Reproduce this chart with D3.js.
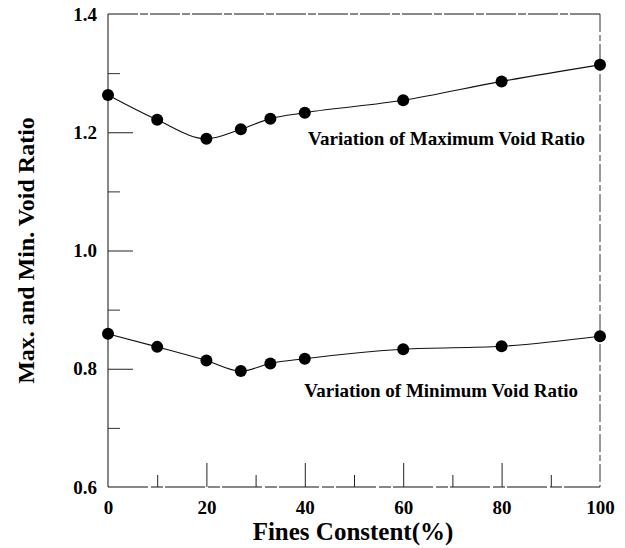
<!DOCTYPE html>
<html>
<head>
<meta charset="utf-8">
<script src="https://cdn.jsdelivr.net/npm/d3@7"></script>
<style>
  html, body { margin: 0; padding: 0; background: #fff; }
  svg { display: block; }
  svg text { font-family: "Liberation Serif", "DejaVu Serif", serif !important; font-weight: bold; fill: #000; }
</style>
</head>
<body>
<svg id="chart" width="625" height="548"></svg>
<script>
// Fines content (%) of each tested mixture
const finesContent = [0, 10, 20, 27, 33, 40, 60, 80, 100];
// Maximum and minimum void ratio at each fines content
const maxVoidRatio = [1.263, 1.221, 1.189, 1.205, 1.223, 1.233, 1.254, 1.286, 1.314];
const minVoidRatio = [0.859, 0.837, 0.814, 0.796, 0.809, 0.817, 0.833, 0.838, 0.855];

// Axis ticks
const xMajorTicks = [0, 20, 40, 60, 80, 100];
const xMinorTicks = [10, 30, 50, 70, 90];
const yMajorTicks = [0.6, 0.8, 1.0, 1.2, 1.4];
const yMinorTicks = [0.7, 0.9, 1.1, 1.3];

const FONT = '"Liberation Serif", "DejaVu Serif", serif';

const svg = d3.select("#chart");
const plotLeft = 108, plotRight = 600, plotTop = 14, plotBottom = 487;

const x = d3.scaleLinear().domain([0, 100]).range([plotLeft, plotRight]);
const y = d3.scaleLinear().domain([0.6, 1.4]).range([plotBottom, plotTop]);

// Frame
const frame = svg.append("g").attr("fill", "none").attr("stroke", "#111").attr("stroke-width", 1);
frame.append("line").attr("x1", plotLeft).attr("x2", plotLeft).attr("y1", plotTop).attr("y2", plotBottom);
frame.append("line").attr("x1", plotLeft).attr("x2", plotRight).attr("y1", plotBottom).attr("y2", plotBottom)
  .attr("stroke-dasharray", "40,3,12,2");
frame.append("line").attr("x1", plotLeft).attr("x2", plotRight).attr("y1", plotTop).attr("y2", plotTop)
  .attr("stroke-dasharray", "30,2,8,2");
frame.append("line").attr("x1", plotRight).attr("x2", plotRight).attr("y1", plotTop).attr("y2", plotBottom)
  .attr("stroke-dasharray", "18,3,6,3").attr("stroke", "#333");

// Y axis: labels and inward ticks
const yAxis = svg.append("g").attr("transform", `translate(${plotLeft},0)`)
  .call(d3.axisLeft(y).tickValues(yMajorTicks).tickFormat(d3.format(".1f"))
    .tickSizeInner(-25).tickSizeOuter(0).tickPadding(11))
  .attr("font-family", FONT).attr("font-size", 19);
yAxis.select(".domain").remove();
yAxis.selectAll(".tick line").attr("stroke", "#222")
  .filter(d => d === 0.6 || d === 1.4).remove();

const yMinor = svg.append("g").attr("transform", `translate(${plotLeft},0)`)
  .call(d3.axisLeft(y).tickValues(yMinorTicks).tickFormat("").tickSizeInner(-12).tickSizeOuter(0));
yMinor.select(".domain").remove();
yMinor.selectAll(".tick line").attr("stroke", "#333");

// X axis: labels and inward ticks
const xAxis = svg.append("g").attr("transform", `translate(0,${plotBottom})`)
  .call(d3.axisBottom(x).tickValues(xMajorTicks).tickFormat(d3.format("d"))
    .tickSizeInner(-24).tickSizeOuter(0).tickPadding(14))
  .attr("font-family", FONT).attr("font-size", 19);
xAxis.select(".domain").remove();
xAxis.selectAll(".tick line").attr("stroke", "#222")
  .filter(d => d === 0 || d === 100).remove();

const xMinor = svg.append("g").attr("transform", `translate(0,${plotBottom})`)
  .call(d3.axisBottom(x).tickValues(xMinorTicks).tickFormat("").tickSizeInner(-12).tickSizeOuter(0));
xMinor.select(".domain").remove();
xMinor.selectAll(".tick line").attr("stroke", "#222");

// Axis titles
svg.append("text")
  .attr("x", 353).attr("y", 540)
  .attr("text-anchor", "middle").attr("font-size", 25)
  .text("Fines Constent(%)");

svg.append("text")
  .attr("transform", `translate(34,${(plotTop + plotBottom) / 2}) rotate(-90)`)
  .attr("text-anchor", "middle").attr("font-size", 24)
  .text("Max. and Min. Void Ratio");

// Series curves and markers
const series = [
  { values: maxVoidRatio, label: "Variation of Maximum Void Ratio", lx: 585, ly: 145 },
  { values: minVoidRatio, label: "Variation of Minimum Void Ratio", lx: 578, ly: 397 }
];

const line = d3.line()
  .x(d => x(d[0]))
  .y(d => y(d[1]))
  .curve(d3.curveMonotoneX);

series.forEach(s => {
  const pts = finesContent.map((f, i) => [f, s.values[i]]);
  svg.append("path").datum(pts)
    .attr("d", line).attr("fill", "none")
    .attr("stroke", "#111").attr("stroke-width", 1.1);
  svg.append("g").selectAll("circle").data(pts).join("circle")
    .attr("cx", d => x(d[0])).attr("cy", d => y(d[1])).attr("r", 6)
    .attr("fill", "#000");
  svg.append("text")
    .attr("x", s.lx).attr("y", s.ly)
    .attr("text-anchor", "end").attr("font-size", 19)
    .text(s.label);
});
</script>
</body>
</html>
